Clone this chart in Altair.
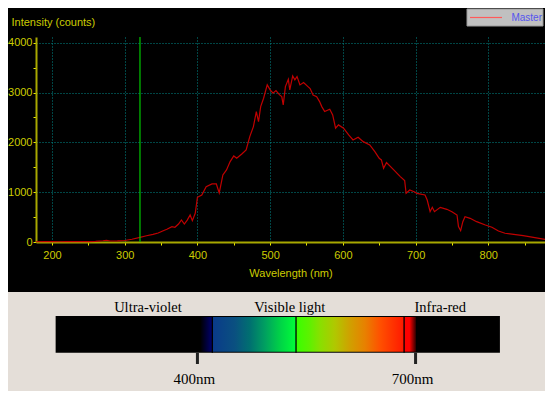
import altair as alt
import pandas as pd

# ---------------- data ----------------
wavelength = [178, 190, 200, 210, 220, 230, 240, 250, 260, 270, 275, 280, 290, 300, 310,
              321, 330, 339, 346, 353, 358, 365, 369, 374, 378, 382, 386, 390, 393, 397,
              400, 406, 412, 420, 426, 430, 435, 440, 445, 450, 454, 461, 467, 472, 477,
              481, 484, 487, 491, 496, 500, 504, 508, 513, 516, 518, 521, 525, 527, 531,
              534, 537, 541, 546, 552, 555, 559, 564, 568, 571, 575, 582, 586, 590, 594,
              601, 608, 614, 621, 628, 637, 644, 650, 653, 656, 660, 670, 679, 685, 687,
              692, 698, 702, 713, 716, 720, 723, 726, 734, 743, 750, 757, 759, 762, 765,
              768, 775, 784, 796, 805, 814, 823, 835, 848, 862, 878]
intensity = [5, 8, 6, 5, 8, 6, 10, 8, 12, 25, 35, 20, 22, 30, 55,
             94, 125, 154, 180, 227, 255, 308, 295, 360, 442, 361, 440, 542, 428, 576,
             897, 944, 1111, 1165, 1165, 985, 1345, 1446, 1613, 1727, 1680, 1767, 1847, 2115, 2316,
             2617, 2416, 2717, 2885, 3153, 3052, 2985, 3038, 2952, 2918, 2751, 3119, 3266, 3052, 3333,
             3253, 3320, 3153, 3200, 3119, 3080, 2950, 2918, 2817, 2717, 2617, 2664, 2550, 2283, 2350,
             2283, 2149, 2048, 2102, 2014, 1948, 1813, 1680, 1647, 1480, 1593, 1446, 1312, 1231, 977,
             1044, 1010, 977, 944, 843, 609, 696, 609, 696, 656, 609, 542, 308, 227, 408,
             508, 475, 408, 341, 295, 221, 175, 154, 127, 94, 54]
series_name = ["Master"]
marker_wavelength = [321]

x_ticks = [200, 250, 300, 350, 400, 450, 500, 550, 600, 650, 700, 750, 800, 850]
y_ticks = [0, 500, 1000, 1500, 2000, 2500, 3000, 3500, 4000]

band_labels = ["Ultra-violet", "Visible light", "Infra-red"]
band_label_wl = [332, 527, 734]
nm_tick_wl = [400, 700]
nm_labels = ["400nm", "700nm"]
bar_extent = [205, 816]
spectrum_edges = [404, 420.5, 535.6, 684.2, 700.5]
spectrum_stops = [
    [("#000000", 0.0), ("#000070", 1.0)],
    [("#0a3a8a", 0.0), ("#0a5080", 0.27), ("#007070", 0.45), ("#00a060", 0.63),
     ("#00d048", 0.8), ("#00ff38", 1.0)],
    [("#38ff00", 0.0), ("#60f000", 0.13), ("#88e000", 0.22), ("#b0c800", 0.36),
     ("#d0a000", 0.5), ("#e88000", 0.64), ("#ff5000", 0.78), ("#ff1800", 1.0)],
    [("#ff0000", 0.0), ("#ff0000", 0.45), ("#300000", 1.0)],
]
divider_wl = [420.5, 535.6, 684.2]

# ---------------- styling ----------------
YEL = "#cccc00"
FONT = "Liberation Sans"
GRID = "#008b8b"

x_enc = alt.X(
    "wl:Q",
    scale=alt.Scale(domain=[178, 878], nice=False, zero=False),
    axis=alt.Axis(
        values=x_ticks,
        labelExpr="datum.value % 100 === 0 ? datum.label : ''",
        format="d",
        title="Wavelength (nm)",
        titleY=31, titleBaseline="middle",
        titleColor=YEL, titleFont=FONT, titleFontSize=11, titleFontWeight="normal",
        labelColor=YEL, labelFont=FONT, labelFontSize=11,
        labelPadding=4, tickSize=3, tickColor="#eeee00", tickWidth=1,
        domainColor="#a8a800", domainWidth=2,
        grid=True, gridColor=GRID, gridDash=[1, 2], gridWidth=1,
        gridOpacity={"condition": {"test": "datum.value % 100 === 0", "value": 1}, "value": 0},
    ),
)

y_enc = alt.Y(
    "intensity:Q",
    scale=alt.Scale(domain=[0, 4114], nice=False),
    axis=alt.Axis(
        values=y_ticks,
        labelExpr="datum.value % 1000 === 0 ? datum.label : ''",
        format="d",
        title="Intensity (counts)",
        titleAngle=0, titleX=-25, titleY=-15, titleAlign="left", titleBaseline="middle",
        titleColor=YEL, titleFont=FONT, titleFontSize=11, titleFontWeight="normal",
        labelColor=YEL, labelFont=FONT, labelFontSize=11,
        labelPadding=1, tickSize=3, tickColor="#eeee00", tickWidth=1,
        domainColor="#a8a800", domainWidth=2,
        grid=True, gridColor=GRID, gridDash=[1, 2], gridWidth=1,
        gridOpacity={"condition": {"test": "datum.value % 1000 === 0 && datum.value > 0", "value": 1}, "value": 0},
    ),
)

spec_df = pd.DataFrame({"wl": wavelength, "intensity": intensity})
one = pd.DataFrame({"k": [0]})

# beige lower panel
beige = alt.Chart(one).mark_rect(color="#e4ded8").encode(
    x=alt.value(-28), x2=alt.value(509), y=alt.value(255), y2=alt.value(354)
)

line = alt.Chart(spec_df).mark_line(color="#c00000", strokeWidth=1.2).encode(x=x_enc, y=y_enc)

marker = alt.Chart(pd.DataFrame({"wl": marker_wavelength})).mark_rule(
    color="#00c800", strokeWidth=1.2
).encode(x=x_enc)

# legend box
leg_box = alt.Chart(one).mark_rect(color="#c0c0c0", stroke="#9a9a9a", strokeWidth=1).encode(
    x=alt.value(431), x2=alt.value(507), y=alt.value(-28), y2=alt.value(-11)
)
leg_line = alt.Chart(one).mark_rule(color="#ff5a5a", strokeWidth=1.2).encode(
    x=alt.value(434), x2=alt.value(466), y=alt.value(-19.5)
)
leg_text = alt.Chart(pd.DataFrame({"name": series_name})).mark_text(
    font=FONT, fontSize=10, color="#5555ee", align="right", baseline="middle"
).encode(x=alt.value(506), y=alt.value(-19), text="name:N")

# spectrum bar
bar = alt.Chart(pd.DataFrame({"wl": [bar_extent[0]], "wl2": [bar_extent[1]]})).mark_rect(
    color="black"
).encode(x=x_enc, x2="wl2:Q", y=alt.value(279), y2=alt.value(315.7))

grad_layers = []
for i, stops in enumerate(spectrum_stops):
    g = alt.Gradient(
        gradient="linear",
        stops=[alt.GradientStop(color=c, offset=o) for c, o in stops],
        x1=0, x2=1, y1=0, y2=0,
    )
    seg = pd.DataFrame({"wl": [spectrum_edges[i]], "wl2": [spectrum_edges[i + 1]]})
    grad_layers.append(
        alt.Chart(seg).mark_rect(color=g).encode(
            x=x_enc, x2="wl2:Q", y=alt.value(280), y2=alt.value(314.7)
        )
    )

dividers = alt.Chart(pd.DataFrame({"wl": divider_wl})).mark_rule(
    color="black", strokeWidth=1.3
).encode(x=x_enc, y=alt.value(279), y2=alt.value(315.7))

band_text = alt.Chart(pd.DataFrame({"wl": band_label_wl, "label": band_labels})).mark_text(
    font="Liberation Serif", fontSize=14.5, color="black", baseline="alphabetic", align="center"
).encode(x=x_enc, y=alt.value(275), text="label:N")

nm_ticks = alt.Chart(pd.DataFrame({"wl": nm_tick_wl})).mark_rule(
    color="#222222", strokeWidth=3
).encode(x=x_enc, y=alt.value(315.7), y2=alt.value(327))

nm_text = alt.Chart(pd.DataFrame({"wl": nm_tick_wl, "label": nm_labels})).mark_text(
    font="Liberation Serif", fontSize=15, color="black", baseline="alphabetic", align="center", dx=-3
).encode(x=x_enc, y=alt.value(347), text="label:N")

chart = alt.layer(
    beige, line, marker, leg_box, leg_line, leg_text, bar, *grad_layers, dividers,
    band_text, nm_ticks, nm_text
).properties(
    width=509,
    height=205,
    background="black",
    padding={"left": 28, "top": 29, "right": 0, "bottom": 149},
    autosize=alt.AutoSizeParams(type="none"),
).configure_view(stroke=None)

chart.save("out.html", embed_options={"renderer": "svg", "actions": False})
